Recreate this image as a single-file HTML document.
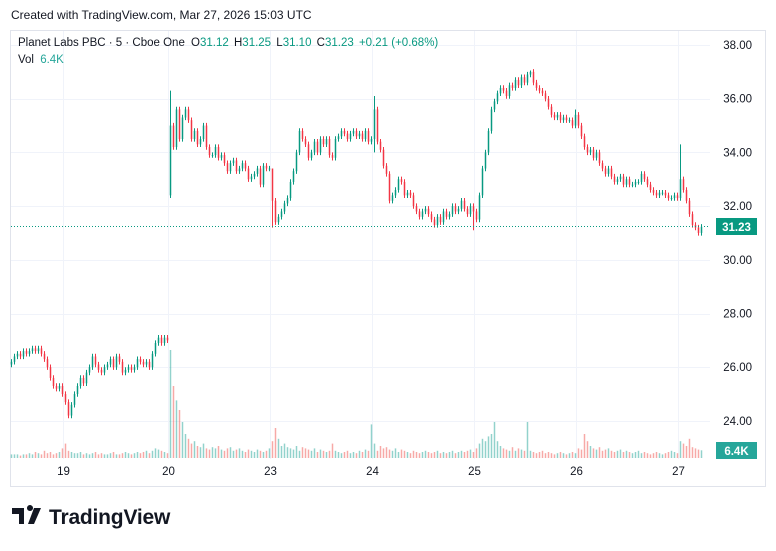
<!DOCTYPE html>
<html><head><meta charset="utf-8"><style>
body{margin:0;background:#fff;width:776px;height:546px;overflow:hidden;font-family:"Liberation Sans",sans-serif}
</style></head><body>
<svg id="c" width="776" height="546" xmlns="http://www.w3.org/2000/svg">
<text x="11" y="19" font-size="12" fill="#131722">Created with TradingView.com, Mar 27, 2026 15:03 UTC</text>
<rect x="10.5" y="30.5" width="755" height="456" fill="none" stroke="#e0e3eb"/>
<g id="grid"></g>
<g id="vol"></g>
<g id="candles"></g>
<line x1="11" x2="710" y1="226.5" y2="226.5" stroke="#089981" stroke-dasharray="1 2"/>
<g id="axis"></g>
<rect x="716" y="218" width="41" height="17" fill="#089981"/>
<text x="736.5" y="231" font-size="11.5" fill="#fff" text-anchor="middle" font-weight="bold">31.23</text>
<rect x="716" y="442" width="41" height="17" fill="#26a69a"/>
<text x="736.5" y="455" font-size="11.5" fill="#fff" text-anchor="middle" font-weight="bold">6.4K</text>
<text x="18" y="46" font-size="11.5" fill="#131722">Planet Labs PBC · 5 · Cboe One <tspan dx="3">O</tspan><tspan fill="#089981">31.12</tspan> <tspan dx="2">H</tspan><tspan fill="#089981">31.25</tspan> <tspan dx="2">L</tspan><tspan fill="#089981">31.10</tspan> <tspan dx="2">C</tspan><tspan fill="#089981">31.23</tspan> <tspan dx="2" fill="#089981">+0.21 (+0.68%)</tspan></text>
<text x="18" y="63" font-size="11.5" fill="#131722">Vol <tspan dx="3" fill="#26a69a">6.4K</tspan></text>
<g>
<path d="M12 508h12v16h-5v-10h-7z M27 508a3 3 0 1 1 0 .1z M34 508h7l-7 16h-6z" fill="#131722"/>
<text x="49" y="524" font-size="21" font-weight="bold" fill="#131722" letter-spacing="-0.2">TradingView</text>
</g>
</svg>
<script>
const closes=[26.2,26.4,26.5,26.4,26.6,26.5,26.6,26.7,26.6,26.7,26.5,26.3,26.0,25.6,25.3,25.2,25.3,25.0,24.7,24.2,24.6,25.0,25.3,25.6,25.4,25.8,26.0,26.4,26.1,25.9,25.8,26.0,26.1,26.3,26.0,26.4,26.2,25.8,25.9,26.0,25.9,26.0,26.3,26.2,26.1,26.2,26.0,26.5,26.9,27.1,26.9,27.1,27.0,
35.0,34.2,35.6,34.5,35.3,35.6,35.2,34.5,34.8,34.3,34.5,35.0,34.2,33.9,33.9,34.2,33.8,33.9,33.6,33.3,33.6,33.7,33.3,33.4,33.6,33.4,33.0,33.1,33.2,33.4,32.8,33.5,33.4,33.4,
32.2,31.4,31.6,31.8,32.1,32.3,32.9,33.3,34.0,34.8,34.5,34.3,33.8,34.0,34.4,34.0,34.5,34.3,34.5,33.9,33.8,34.5,34.6,34.8,34.7,34.5,34.7,34.8,34.6,34.7,34.5,34.8,34.4,34.5,
35.6,34.4,34.1,33.5,33.2,32.2,32.4,32.6,33.0,32.9,32.4,32.5,32.4,32.0,31.8,31.6,31.8,31.9,31.7,31.5,31.3,31.6,31.4,31.8,31.6,31.7,32.0,31.8,31.9,32.2,31.9,31.7,32.0,31.8,
31.5,32.4,33.4,34.0,34.8,35.6,35.9,36.2,36.4,36.3,36.1,36.5,36.4,36.7,36.5,36.8,36.6,36.9,37.0,36.6,36.4,36.3,36.2,36.0,35.7,35.4,35.3,35.4,35.2,35.3,35.2,35.2,35.0,35.4,
35.0,34.6,34.2,34.0,34.1,33.8,34.0,33.6,33.4,33.2,33.4,33.1,32.9,33.0,33.1,32.8,33.0,32.8,32.8,32.9,32.9,33.2,33.0,32.8,32.6,32.5,32.4,32.5,32.5,32.4,32.3,32.3,32.4,32.3,
33.0,32.6,32.2,31.7,31.3,31.2,31.0,31.23];
const gapOpens={53:32.4};
const spikeHighs={53:36.3,87:32.3,121:36.1,173:37.05,188:35.6,223:34.3};
const spikeLows={53:32.3,87:31.2,121:34.0,154:31.1,229:30.9};
const volumes=[3,3,3,2,3,3,4,3,5,4,3,6,4,5,3,4,5,8,12,6,5,4,4,5,3,4,3,4,5,3,4,3,3,4,5,3,3,4,5,4,3,4,5,4,5,6,4,6,8,7,6,5,4,
90,60,48,40,30,20,16,12,14,10,9,12,8,7,9,8,10,7,6,8,9,6,7,8,6,5,7,6,5,7,6,5,6,8,
14,25,16,10,12,9,8,7,10,6,9,8,7,6,8,5,7,6,5,6,12,6,5,4,5,6,4,5,4,6,5,7,6,28,
12,6,10,8,9,7,6,8,5,7,6,5,4,6,5,4,5,6,5,4,5,6,4,5,4,5,6,4,5,6,5,6,7,5,
8,12,16,14,18,20,30,14,10,8,7,6,9,6,8,7,6,30,6,5,4,5,6,4,5,4,3,4,5,4,3,4,5,4,
8,7,20,14,10,8,7,9,6,7,8,6,5,6,7,5,6,5,4,5,6,4,5,4,3,4,5,4,3,4,5,6,5,4,
14,12,10,16,9,8,7,6.4];
const priceTicks=[38,36,34,32,30,28,26,24];
const dayLabels=["19","20","23","24","25","26","27"];
const dayStartIdx=[18,53,87,121,155,189,223];

const ns="http://www.w3.org/2000/svg";
const xOf=i=>11.5+i*3;
const yOf=p=>45+(38-p)*26.85;
const vY=v=>458-v*1.2;
function mk(tag,attrs,parent){const e=document.createElementNS(ns,tag);for(const k in attrs)e.setAttribute(k,attrs[k]);parent.appendChild(e);return e;}
const grid=document.getElementById('grid'),axis=document.getElementById('axis');
priceTicks.forEach(p=>{
  const l=mk('line',{x1:11,x2:710,y1:Math.round(yOf(p))+.5,y2:Math.round(yOf(p))+.5,stroke:'#f0f3fa'},grid);
  
  
  const t=mk('text',{x:752,y:yOf(p)+4,'font-size':11.5,fill:'#131722','text-anchor':'end'},axis);
  t.textContent=p.toFixed(2);
  
  
});
dayLabels.forEach((d,k)=>{
  const x=Math.round(xOf(dayStartIdx[k])-3)+.5;
  const l=mk('line',{x1:x,x2:x,y1:31,y2:459,stroke:'#f0f3fa'},grid);
  
  
  const t=mk('text',{x:x,y:475,'font-size':11.5,fill:'#131722','text-anchor':'middle'},axis);
  t.textContent=d;
  
  
});
const cg=document.getElementById('candles'),vg=document.getElementById('vol');
let prev=26.1;
closes.forEach((c,i)=>{
  const o=(i in gapOpens)?gapOpens[i]:prev;
  const up=c>=o;
  const col=up?'#089981':'#f23645';
  const hi=(i in spikeHighs)?spikeHighs[i]:Math.max(o,c)+0.1;
  const lo=(i in spikeLows)?spikeLows[i]:Math.min(o,c)-0.1;
  const x=xOf(i);
  const w=mk('line',{x1:x,x2:x,y1:yOf(hi),y2:yOf(lo),stroke:col,'stroke-width':1},cg);
  
  
  const top=yOf(Math.max(o,c)),bot=yOf(Math.min(o,c));
  const b=mk('rect',{x:x-0.75,y:top,width:1.5,height:Math.max(1,bot-top),fill:col},cg);
  
  
  const v=volumes[i];
  const vb=mk('rect',{x:x-0.75,y:vY(v),width:1.5,height:458-vY(v),fill:up?'rgba(38,166,154,0.5)':'rgba(239,83,80,0.5)'},vg);
  
  
  prev=c;
});
</script>
</body></html>
